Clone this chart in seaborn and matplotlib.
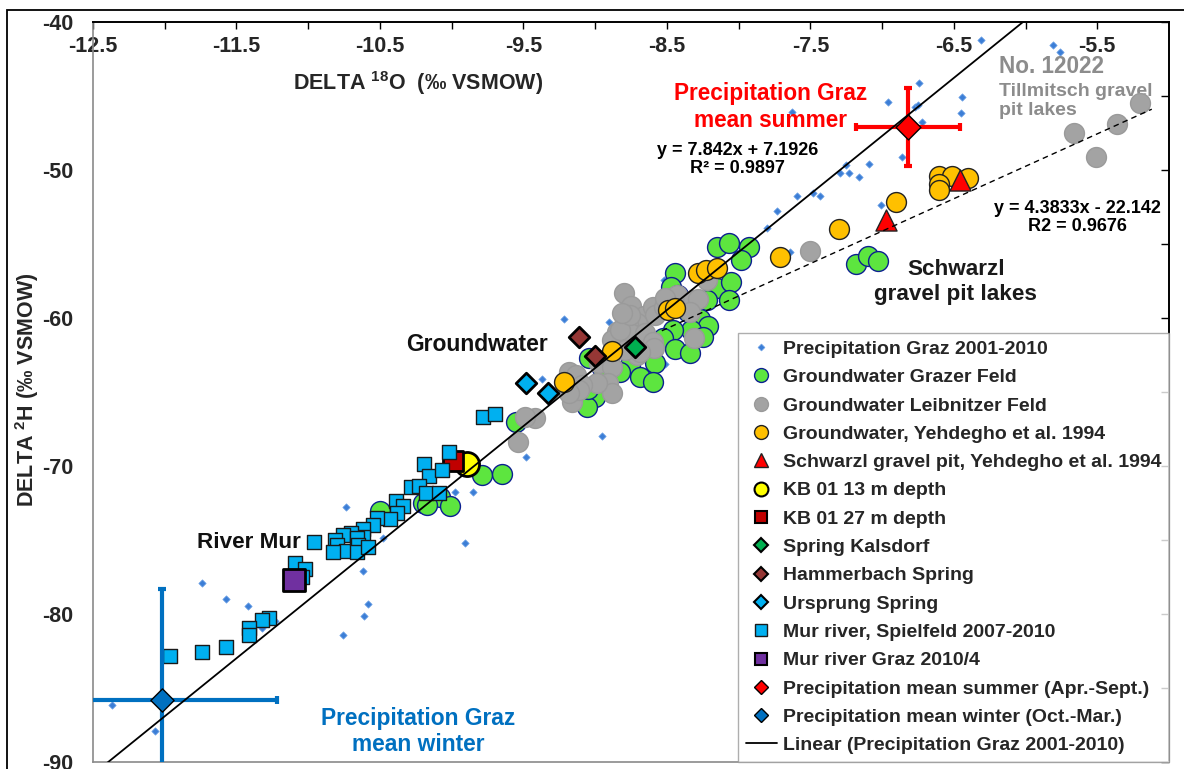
import numpy as np
import pandas as pd
import matplotlib
matplotlib.use('Agg')
import matplotlib.pyplot as plt
import seaborn as sns
from matplotlib.lines import Line2D
from matplotlib.patches import Rectangle

# ---- data: delta 18O (x) and delta 2H (y) ----
precip_o18 = [-6.31, -5.81, -5.76, -6.74, -6.44, -6.96, -6.77, -6.75, -6.45, -6.72,
              -7.25, -7.09, -7.29, -7.23, -7.16, -6.86, -7.59, -7.48, -7.43, -7.63,
              -7.73, -7.80, -7.01, -7.64, -9.22, -8.90, -8.52, -9.37, -8.95, -9.48,
              -9.98, -9.85, -8.51, -10.74, -10.48, -9.91, -10.62, -10.58, -10.61, -10.76,
              -11.74, -11.57, -11.42, -11.32, -11.23, -12.37, -12.07]
precip_h2 = [-41.22, -41.55, -42.03, -44.12, -45.07, -45.41, -45.74, -45.61, -46.15, -46.76,
             -49.66, -49.59, -50.20, -50.20, -50.47, -49.12, -51.76, -51.55, -51.76, -46.08,
             -52.77, -53.92, -52.36, -55.54, -60.07, -60.27, -57.43, -64.12, -67.97, -69.39,
             -71.76, -71.76, -63.11, -72.77, -74.86, -75.20, -77.09, -79.32, -80.14, -81.42,
             -77.91, -78.99, -79.46, -80.95, -80.47, -86.15, -87.91]

grazer_o18 = [-8.15, -8.07, -7.93, -7.98, -8.44, -8.15, -8.05, -8.47, -8.42, -8.22,
              -8.07, -8.35, -8.27, -8.21, -8.33, -8.46, -8.53, -8.44, -8.34, -8.67,
              -8.71, -8.62, -9.04, -8.76, -8.83, -8.58, -8.69, -8.60, -9.00, -9.00,
              -9.06, -8.25, -9.55, -9.79, -9.65, -10.50, -10.20, -10.08, -10.01, -10.17,
              -7.18, -7.10, -7.03, -9.05, -8.95]
grazer_h2 = [-55.20, -54.93, -55.20, -56.08, -56.96, -57.97, -57.57, -57.91, -58.45, -58.78,
             -58.78, -59.59, -60.07, -60.54, -60.81, -60.81, -61.35, -62.09, -62.36, -61.01,
             -61.35, -61.82, -62.70, -63.18, -63.65, -63.04, -63.99, -64.32, -64.53, -65.34,
             -66.01, -61.28, -67.03, -70.61, -70.54, -73.04, -72.50, -72.09, -72.70, -72.64,
             -56.35, -55.81, -56.15, -64.80, -63.38]

leibnitz_o18 = [-8.80, -8.75, -8.66, -8.79, -8.60, -8.58, -8.52, -8.47, -8.43, -8.51,
                -8.32, -8.28, -8.22, -8.71, -8.77, -8.85, -8.88, -8.76, -8.65, -8.60,
                -8.59, -8.83, -8.90, -8.91, -8.97, -8.88, -8.91, -8.88, -8.99, -9.12,
                -9.18, -9.13, -9.09, -9.16, -9.11, -9.18, -8.71, -8.79, -8.69, -8.31,
                -9.42, -9.49, -9.54, -8.76, -8.81, -5.20, -5.36, -5.66, -5.51, -7.50, -8.34]
leibnitz_h2 = [-58.31, -59.19, -59.86, -60.14, -59.26, -59.80, -59.26, -58.65, -58.45, -58.65,
               -58.78, -58.72, -57.43, -60.34, -60.34, -60.95, -61.49, -61.01, -61.01, -61.62,
               -62.03, -60.81, -62.64, -63.04, -63.04, -63.31, -64.39, -65.07, -64.39, -64.39,
               -63.65, -63.85, -64.53, -65.68, -64.86, -65.07, -62.50, -62.16, -62.30, -61.35,
               -66.76, -66.69, -68.38, -59.80, -59.66, -45.47, -46.89, -47.50, -49.12, -55.47, -59.59]

yehdegho_o18 = [-8.28, -8.23, -8.15, -8.49, -8.44, -8.88, -9.22, -6.60, -6.51, -6.40,
                -6.60, -6.60, -6.90, -7.30, -7.71]
yehdegho_h2 = [-56.96, -56.76, -56.62, -59.46, -59.32, -62.23, -64.32, -50.41, -50.41, -50.54,
               -50.95, -51.35, -52.16, -53.99, -55.88]

schwarzl_o18 = [-6.46, -6.97]
schwarzl_h2 = [-50.68, -53.38]

kb13_o18, kb13_h2 = [-9.89], [-69.86]
kb27_o18, kb27_h2 = [-9.99], [-69.66]
kalsdorf_o18, kalsdorf_h2 = [-8.72], [-61.96]
hammer_o18, hammer_h2 = [-9.11, -9.00], [-61.28, -62.57]
ursprung_o18, ursprung_h2 = [-9.48, -9.33], [-64.39, -65.07]

mur_o18 = [-9.78, -9.70, -10.02, -10.19, -10.16, -10.07, -10.28, -10.23, -10.18, -10.09,
           -10.39, -10.34, -10.38, -10.43, -10.52, -10.55, -10.62, -10.62, -10.70, -10.76,
           -10.81, -10.80, -10.74, -10.83, -10.66, -10.65, -10.66, -10.58, -10.96, -11.09,
           -11.02, -11.04, -11.27, -11.32, -11.41, -11.41, -11.57, -11.74, -11.96]
mur_h2 = [-66.69, -66.49, -69.05, -69.86, -70.68, -70.27, -71.42, -71.35, -71.82, -71.82,
          -72.36, -72.70, -73.18, -73.58, -73.51, -73.99, -74.26, -74.80, -74.53, -74.66,
          -75.00, -75.34, -75.74, -75.81, -74.86, -75.34, -75.81, -75.47, -75.14, -76.55,
          -76.96, -77.50, -80.27, -80.41, -80.95, -81.42, -82.23, -82.57, -82.84]

murgraz_o18, murgraz_h2 = [-11.10], [-77.70]

summer_o18, summer_h2 = -6.82, -47.09
summer_err_o18, summer_err_h2 = 0.36, 2.64
winter_o18, winter_h2 = -12.02, -85.81
winter_err_o18, winter_err_h2 = 0.80, 7.5

# trend lines
lmwl_slope, lmwl_icpt = 7.842, 7.1926
lake_slope, lake_icpt = 4.3833, -23.45
lake_range = [-8.535, -5.12]

x_tick_vals = [-12.5, -11.5, -10.5, -9.5, -8.5, -7.5, -6.5, -5.5]
x_minor_vals = [-12.0, -11.0, -10.0, -9.0, -8.0, -7.0, -6.0]
y_tick_vals = [-90, -80, -70, -60, -50, -40]
y_minor_vals = [-85, -75, -65, -55, -45]

sns.set_theme(style='white')
plt.rcParams['font.family'] = ['Liberation Sans', 'DejaVu Sans']
plt.rcParams['font.weight'] = 'bold'
plt.rcParams['axes.unicode_minus'] = False
plt.rcParams['mathtext.fontset'] = 'custom'
plt.rcParams['mathtext.rm'] = 'Liberation Sans:bold'
plt.rcParams['mathtext.bf'] = 'Liberation Sans:bold'

fig = plt.figure(figsize=(11.84, 7.69), dpi=100)
ax = fig.add_axes([93 / 1184, 1 - 762 / 769, 1076 / 1184, 740 / 769])

# (x, y, marker, size, face, edge, lw, label, legend markersize)
series = [
    (precip_o18, precip_h2, 'D', 14, '#3c7ed6', '#6ea2e6', 0.5, 'Precipitation Graz 2001-2010', 3.5),
    (grazer_o18, grazer_h2, 'o', 205, '#5de53f', '#0b1f90', 1.0, 'Groundwater Grazer Feld', 10),
    (leibnitz_o18, leibnitz_h2, 'o', 205, '#a3a3a3', '#9a9a9a', 1.0, 'Groundwater Leibnitzer Feld', 10),
    (yehdegho_o18, yehdegho_h2, 'o', 205, '#ffc000', '#222222', 1.0, 'Groundwater, Yehdegho et al. 1994', 10),
    (schwarzl_o18, schwarzl_h2, '^', 230, '#ff0000', '#222222', 1.0, 'Schwarzl gravel pit, Yehdegho et al. 1994', 10),
    (kb13_o18, kb13_h2, 'o', 300, '#ffff00', '#000000', 2.0, 'KB 01 13 m depth', 10),
    (kb27_o18, kb27_h2, 's', 200, '#c00000', '#000000', 2.0, 'KB 01 27 m depth', 9),
    (kalsdorf_o18, kalsdorf_h2, 'D', 110, '#00b050', '#000000', 2.0, 'Spring Kalsdorf', 7),
    (hammer_o18, hammer_h2, 'D', 110, '#953735', '#000000', 2.0, 'Hammerbach Spring', 7),
    (ursprung_o18, ursprung_h2, 'D', 110, '#00b0f0', '#000000', 2.0, 'Ursprung Spring', 7),
    (mur_o18, mur_h2, 's', 95, '#00b0f0', '#1a1a1a', 1.0, 'Mur river, Spielfeld 2007-2010', 9),
]

handles = []
for i, (xs, ys, mk, sz, fc, ec, lw, lab, lms) in enumerate(series):
    sns.scatterplot(x=xs, y=ys, ax=ax, marker=mk, s=sz, color=fc, edgecolor=ec,
                    linewidth=lw, zorder=3 + i * 0.1, legend=False)
    handles.append(Line2D([], [], ls='', marker=mk, markersize=lms, markerfacecolor=fc,
                          markeredgecolor=ec, markeredgewidth=min(lw, 1.5), label=lab))

sns.scatterplot(x=murgraz_o18, y=murgraz_h2, ax=ax, marker='s', s=260, color='#7030a0',
                edgecolor='#000000', linewidth=2, zorder=4.5, legend=False)
handles.append(Line2D([], [], ls='', marker='s', markersize=9, markerfacecolor='#7030a0',
                      markeredgecolor='#000000', markeredgewidth=1.5, label='Mur river Graz 2010/4'))

# seasonal precipitation means with error bars
ax.errorbar(summer_o18, summer_h2, xerr=summer_err_o18, yerr=summer_err_h2, fmt='none',
            ecolor='#ff0000', elinewidth=3, capsize=3, capthick=3, zorder=4.6)
sns.scatterplot(x=[summer_o18], y=[summer_h2], ax=ax, marker='D', s=160, color='#ff0000',
                edgecolor='#000000', linewidth=1, zorder=4.7, legend=False)
handles.append(Line2D([], [], ls='', marker='D', markersize=7, markerfacecolor='#ff0000',
                      markeredgecolor='#000000', markeredgewidth=1,
                      label='Precipitation mean summer (Apr.-Sept.)'))

ax.errorbar(winter_o18, winter_h2, xerr=winter_err_o18, yerr=winter_err_h2, fmt='none',
            ecolor='#0070c0', elinewidth=3, capsize=3, capthick=3, zorder=4.6)
sns.scatterplot(x=[winter_o18], y=[winter_h2], ax=ax, marker='D', s=140, color='#0070c0',
                edgecolor='#000000', linewidth=1, zorder=4.7, legend=False)
handles.append(Line2D([], [], ls='', marker='D', markersize=7, markerfacecolor='#0070c0',
                      markeredgecolor='#000000', markeredgewidth=1,
                      label='Precipitation mean winter (Oct.-Mar.)'))

# trend lines
xl = np.linspace(-12.5, -5.0, 100)
ax.plot(xl, lmwl_slope * xl + lmwl_icpt, color='black', lw=1.3, zorder=5)
xd = np.linspace(lake_range[0], lake_range[1], 50)
ax.plot(xd, lake_slope * xd + lake_icpt, color='black', lw=1.0, ls=(0, (4, 3)), zorder=5)
handles.append(Line2D([], [], color='black', lw=1.3, label='Linear (Precipitation Graz 2001-2010)'))

ax.set_xlim(-12.5, -5.0)
ax.set_ylim(-90, -40)
ax.set_xticks(x_tick_vals)
ax.set_xticklabels([str(v) for v in x_tick_vals])
ax.set_xticks(x_minor_vals, minor=True)
ax.set_yticks(y_tick_vals)
ax.set_yticks(y_minor_vals, minor=True)
ax.tick_params(axis='x', which='both', top=True, bottom=False, labeltop=True, labelbottom=False,
               direction='in', length=5, width=1, color='black', labelsize=15.5, pad=-25)
ax.tick_params(axis='y', which='both', left=False, right=True, labelleft=True, labelright=False,
               direction='in', length=6, width=1, color='black', labelsize=15.5, pad=14)
ax.set_xlabel('')
ax.set_ylabel('')
for side in ['top', 'right']:
    ax.spines[side].set_color('black')
    ax.spines[side].set_linewidth(1.4)
for side in ['left', 'bottom']:
    ax.spines[side].set_color('#8a8a8a')
    ax.spines[side].set_linewidth(1.2)

fig.text(418 / 1184, 1 - 83 / 769, r'DELTA $^{18}$O  (‰ VSMOW)', ha='center', va='center',
         fontsize=15.5, fontweight='bold')
fig.text(27 / 1184, 1 - 390 / 769, r'DELTA $^{2}$H (‰ VSMOW)', ha='center', va='center',
         rotation=90, fontsize=15.5, fontweight='bold')

# annotations
ax.text(-7.78, -45.75, 'Precipitation Graz\nmean summer', color='#ff0000', ha='center',
        va='center', fontsize=16.3, fontweight='bold', linespacing=1.22)
ax.text(-8.005, -49.32, 'y = 7.842x + 7.1926\nR² = 0.9897', color='black', ha='center',
        va='center', fontsize=13, fontweight='bold', linespacing=1.08)
ax.text(-5.636, -53.18, 'y = 4.3833x - 22.142\nR2 = 0.9676', color='black', ha='center',
        va='center', fontsize=13, fontweight='bold', linespacing=1.08)
ax.text(-6.486, -57.6, 'Schwarzl\ngravel pit lakes', color='#1a1a1a', ha='center',
        va='center', fontsize=16.2, fontweight='bold', linespacing=1.25)
ax.text(-6.186, -43.0, 'No. 12022', color='#8c8c8c', ha='left', va='center',
        fontsize=16.3, fontweight='bold')
ax.text(-6.186, -45.35, 'Tillmitsch gravel\npit lakes', color='#8c8c8c', ha='left', va='center',
        fontsize=14, fontweight='bold', linespacing=1.18)
ax.text(-9.824, -61.82, 'Groundwater', color='#111111', ha='center', va='center',
        fontsize=16.5, fontweight='bold')
ax.text(-11.416, -75.14, 'River Mur', color='#111111', ha='center', va='center',
        fontsize=16.2, fontweight='bold')
ax.text(-10.232, -87.94, 'Precipitation Graz\nmean winter', color='#0070c0', ha='center',
        va='center', fontsize=16.4, fontweight='bold', linespacing=1.2)

leg = ax.legend(handles=handles, loc='lower right', bbox_to_anchor=(1.0, 0.0), borderaxespad=0,
                fontsize=14, frameon=True, fancybox=False, edgecolor='#9a9a9a',
                labelspacing=0.55, handlelength=1.6, handletextpad=0.3, borderpad=0.4)
leg.get_frame().set_linewidth(1.0)
leg.set_zorder(10)
for t in leg.get_texts():
    t.set_fontweight('bold')

fig.add_artist(Rectangle((7 / 1184, -0.1), 1.5, 1.1 - 10 / 769, fill=False, edgecolor='black',
                         lw=1.3, transform=fig.transFigure))

fig.savefig('out.png', dpi=100)
